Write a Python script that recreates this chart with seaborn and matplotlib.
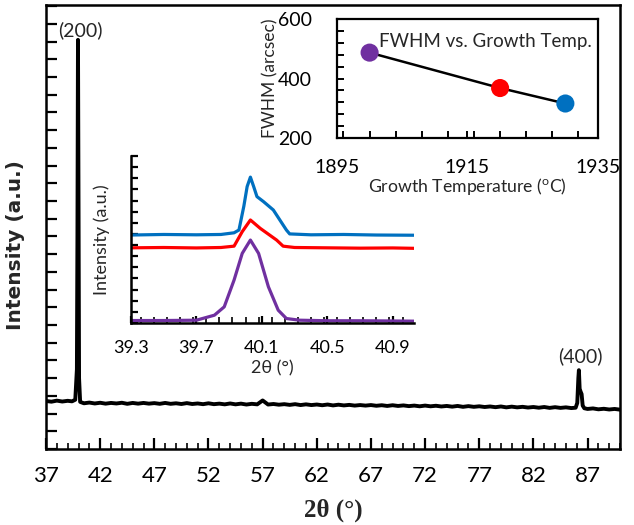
import numpy as np
import pandas as pd
import matplotlib
matplotlib.use("Agg")
import matplotlib.pyplot as plt
from matplotlib.ticker import MultipleLocator, NullFormatter
import seaborn as sns

# main XRD scan (2theta in degrees, intensity in arbitrary units)
main_2theta = [37.0, 37.5, 38.0, 38.5, 39.0, 39.4, 39.7, 39.85, 39.9, 39.95, 40.0, 40.05, 40.15,
               40.5, 41.0, 41.5, 42.0, 42.5, 43.0, 43.5, 44.0, 44.5, 45.0, 45.5, 46.0, 46.5, 47.0,
               47.5, 48.0, 48.5, 49.0, 49.5, 50.0, 50.5, 51.0, 51.5, 52.0, 52.5, 53.0, 53.5, 54.0,
               54.5, 55.0, 55.5, 56.0, 56.5, 57.0, 57.5, 58.0, 58.5, 59.0, 59.5, 60.0, 60.5, 61.0,
               61.5, 62.0, 62.5, 63.0, 63.5, 64.0, 64.5, 65.0, 65.5, 66.0, 66.5, 67.0, 67.5, 68.0,
               68.5, 69.0, 69.5, 70.0, 70.5, 71.0, 71.5, 72.0, 72.5, 73.0, 73.5, 74.0, 74.5, 75.0,
               75.5, 76.0, 76.5, 77.0, 77.5, 78.0, 78.5, 79.0, 79.5, 80.0, 80.5, 81.0, 81.5, 82.0,
               82.5, 83.0, 83.5, 84.0, 84.5, 85.0, 85.5, 85.9, 86.05, 86.15, 86.2, 86.27, 86.35,
               86.45, 86.55, 86.7, 87.0, 87.5, 88.0, 88.5, 89.0, 89.5, 90.0]
main_counts = [2.71, 2.67, 2.73, 2.68, 2.72, 2.69, 2.78, 4.5, 12.0, 23.1, 14.0, 4.0, 2.66,
               2.58, 2.62, 2.57, 2.61, 2.56, 2.60, 2.57, 2.61, 2.55, 2.60, 2.56, 2.60, 2.56, 2.59,
               2.55, 2.60, 2.55, 2.58, 2.54, 2.59, 2.54, 2.57, 2.53, 2.58, 2.53, 2.56, 2.52, 2.57,
               2.52, 2.56, 2.51, 2.55, 2.52, 2.74, 2.51, 2.54, 2.50, 2.53, 2.49, 2.53, 2.48, 2.52,
               2.48, 2.51, 2.47, 2.51, 2.46, 2.50, 2.46, 2.49, 2.45, 2.48, 2.45, 2.48, 2.44, 2.47,
               2.43, 2.47, 2.43, 2.46, 2.42, 2.45, 2.41, 2.45, 2.41, 2.44, 2.40, 2.43, 2.39, 2.43,
               2.38, 2.42, 2.38, 2.41, 2.37, 2.40, 2.36, 2.40, 2.35, 2.39, 2.35, 2.38, 2.34, 2.37,
               2.33, 2.37, 2.32, 2.36, 2.32, 2.35, 2.31, 2.33, 2.60, 4.0, 4.45, 3.40, 3.25,
               3.10, 2.45, 2.30, 2.26, 2.29, 2.24, 2.27, 2.23, 2.26, 2.22]
main_xticks = [37, 42, 47, 52, 57, 62, 67, 72, 77, 82, 87]

# zoomed (200) peak for the three growth temperatures
zoom_blue_x = [39.30, 39.50, 39.70, 39.85, 39.93, 39.96, 39.99, 40.01, 40.03, 40.05, 40.07,
               40.11, 40.17, 40.25, 40.27, 40.40, 40.60, 40.80, 41.05]
zoom_blue_y = [7.90, 7.95, 7.92, 7.95, 8.10, 8.35, 10.5, 12.25, 13.1, 12.25, 11.35,
               10.9, 10.15, 8.35, 8.00, 7.92, 7.95, 7.90, 7.88]
zoom_red_x = [39.30, 39.50, 39.70, 39.85, 39.93, 39.98, 40.03, 40.09, 40.19, 40.23, 40.30,
              40.50, 40.70, 40.90, 41.05]
zoom_red_y = [6.75, 6.78, 6.74, 6.78, 6.90, 8.2, 9.25, 8.50, 7.45, 6.90, 6.78,
              6.75, 6.72, 6.74, 6.70]
zoom_purple_x = [39.30, 39.50, 39.70, 39.81, 39.87, 39.93, 39.98, 40.03, 40.08, 40.14, 40.20,
                 40.25, 40.33, 40.50, 40.70, 40.90, 41.05]
zoom_purple_y = [0.22, 0.22, 0.25, 0.70, 1.45, 3.85, 6.25, 7.45, 6.25, 3.25, 1.15,
                 0.40, 0.25, 0.20, 0.20, 0.18, 0.16]
zoom_xticks = [39.3, 39.7, 40.1, 40.5, 40.9]

# FWHM vs growth temperature
growth_temp = [1900, 1920, 1930]
fwhm = [487, 368, 316]
point_colors = ["#7030A0", "#FF0000", "#0070C0"]

sns.set_theme(style="ticks")
plt.rcParams["font.family"] = ["Lato", "DejaVu Sans"]
plt.rcParams["axes.linewidth"] = 1.8
plt.rcParams["axes.edgecolor"] = "black"

fig = plt.figure(figsize=(6.34, 5.25), dpi=100)

# ---- main pattern ----
ax = fig.add_axes([0.0726, 0.1448, 0.9054, 0.8457])
df_main = pd.DataFrame({"tt": main_2theta, "I": main_counts})
sns.lineplot(data=df_main, x="tt", y="I", ax=ax, color="black", lw=2.8, sort=False)
ax.set_xlim(37, 90)
ax.set_ylim(0, 25.07)
ax.set_xticks(main_xticks)
ax.xaxis.set_minor_locator(MultipleLocator(1))
ax.yaxis.set_major_locator(MultipleLocator(1))
ax.yaxis.set_major_formatter(NullFormatter())
ax.tick_params(axis="both", which="major", direction="in", length=8, width=1.6,
               colors="black", labelsize=16, pad=12, bottom=True, left=True)
ax.tick_params(axis="x", which="minor", direction="in", length=4, width=1.4, bottom=True)
ax.tick_params(axis="y", which="minor", left=False)
ax.set_xlabel("2θ (°)", family="Liberation Serif", fontweight="bold", fontsize=18, labelpad=9)
ax.set_ylabel("Intensity (a.u.)", family=["DejaVu Sans"], fontweight="bold", fontsize=14.5)
ax.yaxis.set_label_coords(-0.037, 0.46)
ax.text(40.14, 23.65, "(200)", ha="center", va="center", fontsize=14)
ax.text(86.3, 5.24, "(400)", ha="center", va="center", fontsize=14)

# ---- zoomed (200) peaks ----
ax1 = fig.add_axes([0.2066, 0.3848, 0.4464, 0.3181])
ax1.patch.set_alpha(0)
sns.lineplot(x=zoom_blue_x, y=zoom_blue_y, ax=ax1, color="#0070C0", lw=2.3)
sns.lineplot(x=zoom_red_x, y=zoom_red_y, ax=ax1, color="#FF0000", lw=2.3)
sns.lineplot(x=zoom_purple_x, y=zoom_purple_y, ax=ax1, color="#7030A0", lw=2.3)
ax1.set_xlim(39.3, 41.03)
ax1.set_ylim(0, 15)
ax1.set_xticks(zoom_xticks)
ax1.set_xticklabels([f"{v:.1f}" for v in zoom_xticks])
ax1.xaxis.set_minor_locator(MultipleLocator(0.08))
ax1.yaxis.set_major_locator(MultipleLocator(1))
ax1.yaxis.set_major_formatter(NullFormatter())
ax1.spines["top"].set_visible(False)
ax1.spines["right"].set_visible(False)
ax1.tick_params(axis="both", which="major", direction="in", length=5, width=1.6,
                colors="black", labelsize=13, pad=12, bottom=True, left=True)
ax1.tick_params(axis="x", which="minor", direction="in", length=4, width=1.4, bottom=True)
ax1.tick_params(axis="y", which="minor", left=False)
ax1.set_xlabel("2θ (°)", fontsize=13, labelpad=3)
ax1.set_ylabel("Intensity (a.u.)", fontsize=13)
ax1.yaxis.set_label_coords(-0.074, 0.5)

# ---- FWHM vs growth temperature ----
ax2 = fig.add_axes([0.5315, 0.7371, 0.4117, 0.2267])
ax2.patch.set_alpha(0)
sns.lineplot(x=growth_temp, y=fwhm, ax=ax2, color="black", lw=1.8)
sns.scatterplot(x=growth_temp, y=fwhm, hue=growth_temp, palette=point_colors, ax=ax2,
                s=170, edgecolor="none", legend=False, zorder=3)
ax2.set_xlim(1895, 1935)
ax2.set_ylim(200, 600)
ax2.set_xticks([1895, 1915, 1935])
ax2.set_yticks([200, 400, 600])
ax2.xaxis.set_minor_locator(MultipleLocator(4))
ax2.yaxis.set_minor_locator(MultipleLocator(40))
ax2.tick_params(axis="both", which="both", direction="in", colors="black", width=1.4,
                bottom=True, left=True)
ax2.tick_params(axis="both", which="major", length=5, labelsize=14)
ax2.tick_params(axis="x", which="major", pad=15)
ax2.tick_params(axis="y", which="major", pad=18)
ax2.tick_params(axis="both", which="minor", length=5)
for sp in ax2.spines.values():
    sp.set_linewidth(1.6)
ax2.set_xlabel("Growth Temperature ($\\mathregular{^o}$C)", fontsize=12.7, labelpad=0)
ax2.set_ylabel("FWHM (arcsec)", fontsize=12.5, labelpad=0)
ax2.text(1901.5, 523, "FWHM vs. Growth Temp.", ha="left", va="center", fontsize=13.5)

fig.savefig("out.png", dpi=100)
